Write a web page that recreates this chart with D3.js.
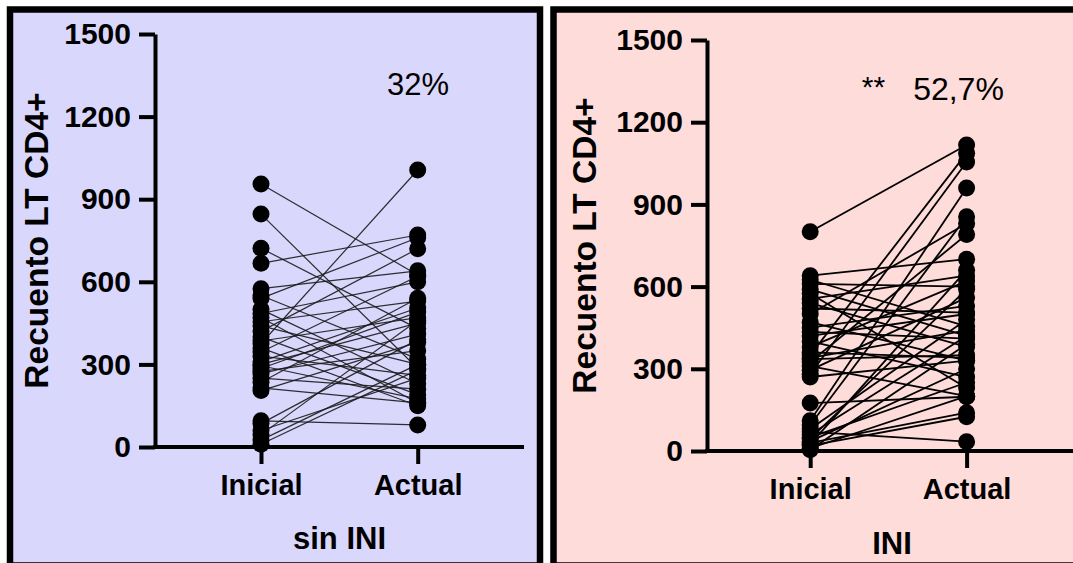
<!DOCTYPE html>
<html>
<head>
<meta charset="utf-8">
<script src="https://cdn.jsdelivr.net/npm/d3@7"></script>
<style>
  html, body { margin: 0; padding: 0; background: #ffffff; }
  svg { display: block; }
  text { font-family: "Liberation Sans", Arial, sans-serif; fill: #000; }
</style>
</head>
<body>
<svg id="chart" width="1073" height="563"></svg>
<script>
// Paired CD4+ counts (cells/µL), baseline ("Inicial") vs current ("Actual")
const categories = ["Inicial", "Actual"];
const yTickValues = [0, 300, 600, 900, 1200, 1500];

// Group without integrase inhibitor
const sinIniInicial = [955, 846, 722, 667, 575, 550, 540, 500, 485, 470, 455, 440, 420, 400, 385, 375, 360, 345,
  330, 310, 300, 295, 285, 275, 265, 250, 235, 215, 205, 95, 85, 45, 25, 10, 60];
const sinIniActual  = [625, 285, 430, 770, 640, 320, 760, 230, 600, 160, 530, 300, 720, 190, 470, 1006, 150, 620,
  260, 505, 450, 175, 490, 350, 410, 210, 540, 160, 380, 80, 390, 460, 300, 280, 250];

// Group with integrase inhibitor
const iniInicial = [800, 640, 625, 610, 590, 575, 555, 540, 520, 500, 470, 450, 435, 420, 400, 380, 360, 350,
  340, 335, 325, 310, 295, 280, 270, 175, 110, 95, 80, 70, 60, 50, 45, 35, 30, 25, 20, 10, 5];
const iniActual  = [1117, 700, 455, 600, 420, 230, 640, 380, 505, 830, 330, 530, 410, 500, 270, 620, 340, 1087,
  440, 350, 790, 200, 560, 1055, 330, 198, 960, 855, 480, 34, 420, 250, 590, 300, 140, 660, 125, 200, 390];

const panels = [
  {
    inicial: sinIniInicial, actual: sinIniActual,
    title: "sin INI", bg: "#dad7fc",
    box: { x: 10, y: 9.5, w: 530, h: 556 },
    axisX0: 155, axisX1: 524, catX: [261, 417.7],
    yTop: 34, yBottom: 447,
    yLabelX: 48, titleY: 549,
    lineWidth: 1.2, lineColor: "#1a1a1a", lineOpacity: 0.9,
    notes: [{ text: "32%", x: 418, y: 95, size: 31 }]
  },
  {
    inicial: iniInicial, actual: iniActual,
    title: "INI", bg: "#fddcda",
    box: { x: 553.5, y: 9.5, w: 540, h: 556 },
    axisX0: 707, axisX1: 1090, catX: [810.2, 966.6],
    yTop: 40, yBottom: 451,
    yLabelX: 596, titleY: 554,
    lineWidth: 1.8, lineColor: "#000", lineOpacity: 1,
    notes: [
      { text: "**", x: 873.5, y: 97, size: 30 },
      { text: "52,7%", x: 958.5, y: 100, size: 32 }
    ]
  }
];

const svg = d3.select("#chart");

panels.forEach(p => {
  const g = svg.append("g");

  // framed background
  g.append("rect")
    .attr("x", p.box.x).attr("y", p.box.y)
    .attr("width", p.box.w).attr("height", p.box.h)
    .attr("fill", p.bg)
    .attr("stroke", "#000").attr("stroke-width", 6.5);

  const x = d3.scalePoint().domain(categories).range(p.catX);
  const y = d3.scaleLinear().domain([0, 1500]).range([p.yBottom, p.yTop]);

  // y axis
  const yAxis = g.append("g")
    .attr("transform", `translate(${p.axisX0},0)`)
    .call(d3.axisLeft(y).tickValues(yTickValues).tickFormat(d3.format("d"))
      .tickSize(16).tickSizeOuter(0).tickPadding(8));
  yAxis.select(".domain").attr("stroke", "#000").attr("stroke-width", 4);
  yAxis.selectAll(".tick line").attr("stroke", "#000").attr("stroke-width", 4);
  yAxis.selectAll(".tick text")
    .attr("font-family", "Liberation Sans, Arial, sans-serif")
    .attr("font-size", 30).attr("font-weight", "bold").attr("fill", "#000");

  // x axis
  g.append("line")
    .attr("x1", p.axisX0 - 2).attr("x2", p.axisX1)
    .attr("y1", y(0)).attr("y2", y(0))
    .attr("stroke", "#000").attr("stroke-width", 4);
  const xAxis = g.append("g")
    .attr("transform", `translate(0,${y(0)})`)
    .call(d3.axisBottom(x).tickSize(17).tickSizeOuter(0).tickPadding(10));
  xAxis.select(".domain").remove();
  xAxis.selectAll(".tick line").attr("stroke", "#000").attr("stroke-width", 4);
  xAxis.selectAll(".tick text")
    .attr("font-family", "Liberation Sans, Arial, sans-serif")
    .attr("font-size", 29).attr("font-weight", "bold").attr("fill", "#000");

  // axis titles
  g.append("text")
    .attr("transform", `translate(${p.yLabelX},${(p.yTop + p.yBottom) / 2}) rotate(-90)`)
    .attr("text-anchor", "middle")
    .attr("font-size", 33.5).attr("font-weight", "bold")
    .text("Recuento LT CD4+");
  g.append("text")
    .attr("x", (p.axisX0 + Math.min(p.axisX1, 1077)) / 2).attr("y", p.titleY)
    .attr("text-anchor", "middle")
    .attr("font-size", 31).attr("font-weight", "bold")
    .text(p.title);

  // paired lines
  const pairs = p.inicial.map((v, i) => ({ a: v, b: p.actual[i] }));
  g.append("g").selectAll("line").data(pairs).join("line")
    .attr("x1", x("Inicial")).attr("y1", d => y(d.a))
    .attr("x2", x("Actual")).attr("y2", d => y(d.b))
    .attr("stroke", p.lineColor).attr("stroke-width", p.lineWidth)
    .attr("stroke-opacity", p.lineOpacity);

  // points
  const dots = g.append("g");
  dots.selectAll("circle.ini").data(p.inicial).join("circle")
    .attr("class", "ini")
    .attr("cx", x("Inicial")).attr("cy", d => y(d)).attr("r", 8.5).attr("fill", "#000");
  dots.selectAll("circle.act").data(p.actual).join("circle")
    .attr("class", "act")
    .attr("cx", x("Actual")).attr("cy", d => y(d)).attr("r", 8.5).attr("fill", "#000");

  // annotations
  p.notes.forEach(n => {
    g.append("text")
      .attr("x", n.x).attr("y", n.y)
      .attr("text-anchor", "middle")
      .attr("font-size", n.size)
      .text(n.text);
  });
});
</script>
</body>
</html>
